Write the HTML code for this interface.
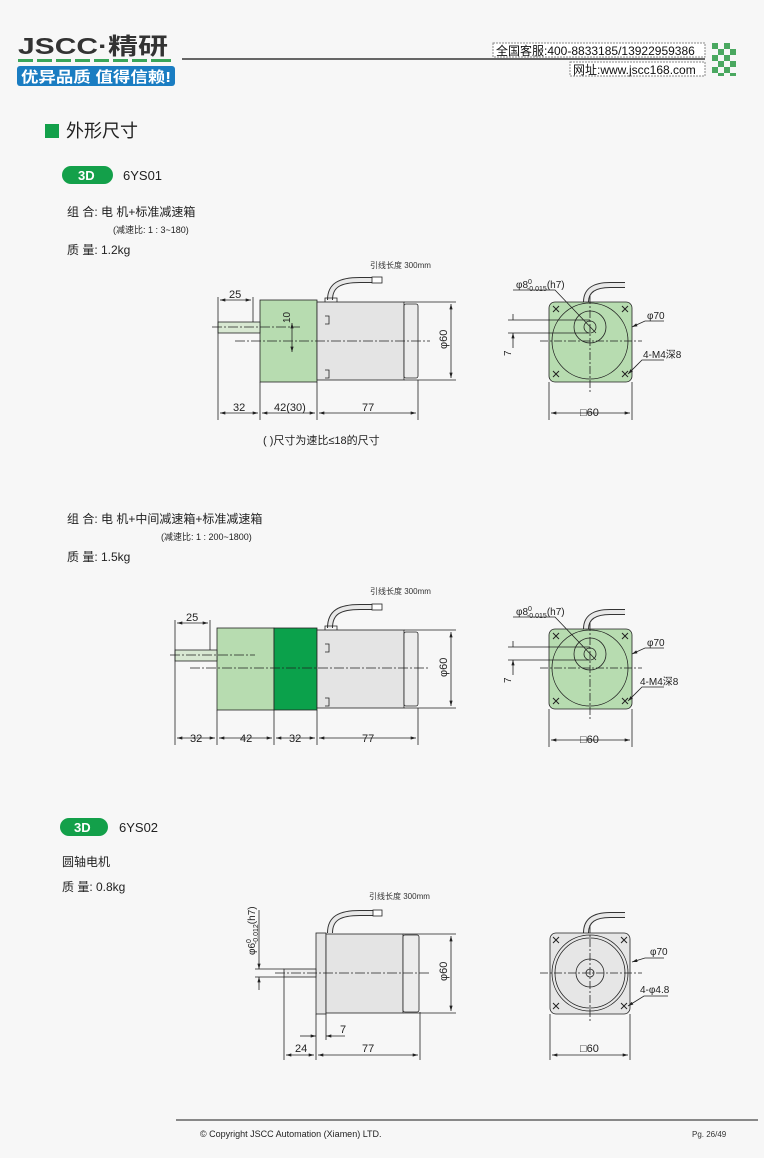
<!DOCTYPE html>
<html><head><meta charset="utf-8"><style>
html,body{margin:0;padding:0;background:#f7f7f7;}
body{width:764px;height:1153px;overflow:hidden;font-family:"Liberation Sans","Noto Sans CJK SC",sans-serif;}
svg text{font-family:"Liberation Sans","Noto Sans CJK SC",sans-serif;}
.n{font-family:"Liberation Sans Narrow","Liberation Sans","Noto Sans CJK SC",sans-serif;}
</style></head><body>
<svg width="764" height="1153" viewBox="0 0 764 1153" xmlns="http://www.w3.org/2000/svg">
<defs>
<marker id="a" viewBox="0 0 10 6" refX="10" refY="3" markerWidth="8" markerHeight="4" orient="auto-start-reverse"><path d="M0,0 L10,3 L0,6z" fill="#222"/></marker>
</defs>
<!-- header -->
<text x="18" y="54" font-size="23" font-weight="bold" fill="#333" textLength="150" lengthAdjust="spacingAndGlyphs">JSCC·精研</text>
<g fill="#3aa55a">
<rect x="18" y="59" width="15" height="3"/><rect x="37" y="59" width="15" height="3"/><rect x="56" y="59" width="15" height="3"/><rect x="75" y="59" width="15" height="3"/><rect x="94" y="59" width="15" height="3"/><rect x="113" y="59" width="15" height="3"/><rect x="132" y="59" width="15" height="3"/><rect x="151" y="59" width="20" height="3"/>
</g>
<rect x="17" y="66" width="158" height="20" rx="3" fill="#1a7dc2"/>
<text x="21" y="82" font-size="15" font-weight="bold" fill="#fff" textLength="150" lengthAdjust="spacingAndGlyphs">优异品质 值得信赖!</text>
<rect x="182" y="58" width="523" height="2" fill="#666"/>
<rect x="493" y="43" width="212" height="14" fill="#fff" stroke="#888" stroke-dasharray="2,1"/>
<text x="496" y="55" font-size="12" fill="#111" class="n">全国客服:400-8833185/13922959386</text>
<rect x="570" y="62" width="135" height="14" fill="#fff" stroke="#888" stroke-dasharray="2,1"/>
<text x="573" y="74" font-size="12" fill="#111" class="n">网址:www.jscc168.com</text>
<g fill="#4aa860">
<rect x="712" y="43" width="6" height="6"/><rect x="724" y="43" width="6" height="6"/><rect x="718" y="49" width="6" height="6"/><rect x="730" y="49" width="6" height="6"/><rect x="712" y="55" width="6" height="6"/><rect x="724" y="55" width="6" height="6"/><rect x="718" y="61" width="6" height="6"/><rect x="730" y="61" width="6" height="6"/><rect x="712" y="67" width="6" height="6"/><rect x="724" y="67" width="6" height="6"/><rect x="718" y="73" width="6" height="3"/><rect x="730" y="73" width="6" height="3"/>
</g>
<rect x="45" y="124" width="14" height="14" fill="#13a04a"/>
<text x="66" y="137" font-size="18" fill="#222">外形尺寸</text>
<rect x="62" y="166" width="51" height="18" rx="9" fill="#13a04a"/>
<text x="78" y="180" font-size="13" font-weight="bold" fill="#fff">3D</text>
<text x="123" y="180" font-size="13" fill="#222">6YS01</text>
<text x="67" y="216" font-size="12" fill="#222">组 合:  电 机+标准减速箱</text>
<text x="113" y="233" font-size="9" fill="#222">(减速比: 1 : 3~180)</text>
<text x="67" y="254" font-size="12" fill="#222">质 量:  1.2kg</text>

<g fill="none" stroke="#222" stroke-width="0.8">
<!-- ===== Diagram 1 side ===== -->
<text x="370" y="268" font-size="8" fill="#333" stroke="none">引线长度 300mm</text>
<path d="M330,300 C330,285 340,280 360,280 L376,280" stroke-width="6" stroke="#333"/>
<path d="M330,300 C330,285 340,280 360,280 L376,280" stroke-width="4" stroke="#e8e8e8"/>
<rect x="372" y="277" width="10" height="6" fill="#fff"/>
<rect x="260" y="300" width="57" height="82" fill="#b7dcb0"/>
<rect x="218" y="322" width="42" height="11" fill="#d8e8d2"/>
<rect x="317" y="302" width="87" height="78" fill="#e4e4e4"/>
<rect x="404" y="304" width="14" height="74" rx="2" fill="#ececec"/>
<path d="M325,302 v-4 h12 v4"/>
<path d="M325,316 h4 v8 h-4 M325,370 h4 v8 h-4"/>
<path d="M212,327 H300 M235,341 H430" stroke-dasharray="10,2,2,2"/>
<path d="M218,297 V420 M253,297 V322 M260,382 V420 M317,382 V420 M418,380 V420 M404,302 H456 M404,380 H456"/>
<path d="M220,300 H251" marker-start="url(#a)" marker-end="url(#a)"/>
<path d="M220,413 H258" marker-start="url(#a)" marker-end="url(#a)"/>
<path d="M262,413 H315" marker-start="url(#a)" marker-end="url(#a)"/>
<path d="M319,413 H416" marker-start="url(#a)" marker-end="url(#a)"/>
<path d="M451,304 V378" marker-start="url(#a)" marker-end="url(#a)"/>
<path d="M292,323 V352" marker-start="url(#a)" marker-end="url(#a)"/>
<text x="229" y="298" font-size="11" fill="#222" stroke="none" class="n">25</text>
<text x="233" y="411" font-size="11" fill="#222" stroke="none" class="n">32</text>
<text x="274" y="411" font-size="11" fill="#222" stroke="none" class="n">42(30)</text>
<text x="362" y="411" font-size="11" fill="#222" stroke="none" class="n">77</text>
<text transform="translate(447,349) rotate(-90)" font-size="11" fill="#222" stroke="none" class="n">φ60</text>
<text transform="translate(290,323) rotate(-90)" font-size="10" fill="#222" stroke="none" class="n">10</text>
<text x="263" y="444" font-size="11" fill="#222" stroke="none">( )尺寸为速比≤18的尺寸</text>

<!-- Diagram 1 front -->
<g id="fv1">
<path d="M586,302 C586,290 595,285 610,285 L625,285" stroke-width="6" stroke="#333"/>
<path d="M586,302 C586,290 595,285 610,285 L625,285" stroke-width="4" stroke="#e8e8e8"/>
<rect x="549" y="302" width="83" height="80" rx="6" fill="#b7dcb0"/>
<circle cx="590" cy="341" r="38"/>
<circle cx="590" cy="327" r="16"/>
<circle cx="590" cy="327" r="6"/>
<path d="M590,296 V392 M540,341 H642" stroke-dasharray="8,2,2,2"/>
<g stroke-width="1"><path d="M553,306 l6,6 m0,-6 l-6,6 M622,306 l6,6 m0,-6 l-6,6 M553,371 l6,6 m0,-6 l-6,6 M622,371 l6,6 m0,-6 l-6,6"/></g>
<path d="M508,320 H590 M508,333 H590"/>
<path d="M513,314 V320 M513,348 V333" marker-end="url(#a)"/>
<path d="M513,290 H555 L596,333"/>
<path d="M664,321 H645 L632,327" marker-end="url(#a)"/>
<path d="M664,360 H642 L628,374" marker-end="url(#a)"/>
<path d="M549,382 V420 M632,382 V420"/>
<path d="M551,413 H630" marker-start="url(#a)" marker-end="url(#a)"/>
<text x="516" y="288" font-size="10" fill="#222" stroke="none" class="n">φ8<tspan font-size="7" dy="-4">0</tspan><tspan font-size="7" dx="-5" dy="7">-0.015</tspan><tspan dy="-3">(h7)</tspan></text>
<text x="647" y="319" font-size="10" fill="#222" stroke="none" class="n">φ70</text>
<text x="643" y="358" font-size="10" fill="#222" stroke="none" class="n">4-M4深8</text>
<text transform="translate(511,356) rotate(-90)" font-size="10" fill="#222" stroke="none" class="n">7</text>
<text x="580" y="416" font-size="11" fill="#222" stroke="none" class="n">□60</text>
</g>
</g>

<text x="67" y="523" font-size="12" fill="#222">组 合:  电 机+中间减速箱+标准减速箱</text>
<text x="161" y="540" font-size="9" fill="#222">(减速比: 1 : 200~1800)</text>
<text x="67" y="561" font-size="12" fill="#222">质 量:  1.5kg</text>

<g fill="none" stroke="#222" stroke-width="0.8">
<text x="370" y="594" font-size="8" fill="#333" stroke="none">引线长度 300mm</text>
<path d="M330,628 C330,612 340,607 360,607 L376,607" stroke-width="6" stroke="#333"/>
<path d="M330,628 C330,612 340,607 360,607 L376,607" stroke-width="4" stroke="#e8e8e8"/>
<rect x="372" y="604" width="10" height="6" fill="#fff"/>
<rect x="217" y="628" width="57" height="82" fill="#b7dcb0"/>
<rect x="274" y="628" width="43" height="82" fill="#0ba14b"/>
<rect x="175" y="650" width="42" height="11" fill="#d8e8d2"/>
<rect x="317" y="630" width="87" height="78" fill="#e4e4e4"/>
<rect x="404" y="632" width="14" height="74" rx="2" fill="#ececec"/>
<path d="M325,630 v-4 h12 v4 M325,644 h4 v8 h-4 M325,698 h4 v8 h-4"/>
<path d="M170,655 H255 M190,668 H430" stroke-dasharray="10,2,2,2"/>
<path d="M175,620 V745 M210,620 V650 M217,710 V745 M274,710 V745 M317,710 V745 M418,708 V745 M404,630 H456 M404,708 H456"/>
<path d="M177,623 H208" marker-start="url(#a)" marker-end="url(#a)"/>
<path d="M177,738 H215" marker-start="url(#a)" marker-end="url(#a)"/>
<path d="M219,738 H272" marker-start="url(#a)" marker-end="url(#a)"/>
<path d="M276,738 H315" marker-start="url(#a)" marker-end="url(#a)"/>
<path d="M319,738 H416" marker-start="url(#a)" marker-end="url(#a)"/>
<path d="M451,632 V706" marker-start="url(#a)" marker-end="url(#a)"/>
<text x="186" y="621" font-size="11" fill="#222" stroke="none" class="n">25</text>
<text x="190" y="742" font-size="11" fill="#222" stroke="none" class="n">32</text>
<text x="240" y="742" font-size="11" fill="#222" stroke="none" class="n">42</text>
<text x="289" y="742" font-size="11" fill="#222" stroke="none" class="n">32</text>
<text x="362" y="742" font-size="11" fill="#222" stroke="none" class="n">77</text>
<text transform="translate(447,677) rotate(-90)" font-size="11" fill="#222" stroke="none" class="n">φ60</text>
<g transform="translate(0,327)">
<path d="M586,302 C586,290 595,285 610,285 L625,285" stroke-width="6" stroke="#333"/>
<path d="M586,302 C586,290 595,285 610,285 L625,285" stroke-width="4" stroke="#e8e8e8"/>
<rect x="549" y="302" width="83" height="80" rx="6" fill="#b7dcb0"/>
<circle cx="590" cy="341" r="38"/>
<circle cx="590" cy="327" r="16"/>
<circle cx="590" cy="327" r="6"/>
<path d="M590,296 V392 M540,341 H642" stroke-dasharray="8,2,2,2"/>
<g stroke-width="1"><path d="M553,306 l6,6 m0,-6 l-6,6 M622,306 l6,6 m0,-6 l-6,6 M553,371 l6,6 m0,-6 l-6,6 M622,371 l6,6 m0,-6 l-6,6"/></g>
<path d="M508,320 H590 M508,333 H590"/>
<path d="M513,314 V320 M513,348 V333" marker-end="url(#a)"/>
<path d="M513,290 H555 L596,333"/>
<path d="M664,321 H645 L632,327" marker-end="url(#a)"/>
<path d="M664,360 H642 L628,374" marker-end="url(#a)"/>
<path d="M549,382 V420 M632,382 V420"/>
<path d="M551,413 H630" marker-start="url(#a)" marker-end="url(#a)"/>
<text x="516" y="288" font-size="10" fill="#222" stroke="none" class="n">φ8<tspan font-size="7" dy="-4">0</tspan><tspan font-size="7" dx="-5" dy="7">-0.015</tspan><tspan dy="-3">(h7)</tspan></text>
<text x="647" y="319" font-size="10" fill="#222" stroke="none" class="n">φ70</text>
<text x="640" y="358" font-size="10" fill="#222" stroke="none" class="n">4-M4深8</text>
<text transform="translate(511,356) rotate(-90)" font-size="10" fill="#222" stroke="none" class="n">7</text>
<text x="580" y="416" font-size="11" fill="#222" stroke="none" class="n">□60</text>
</g>
</g>

<rect x="60" y="818" width="48" height="18" rx="9" fill="#13a04a"/>
<text x="74" y="832" font-size="13" font-weight="bold" fill="#fff">3D</text>
<text x="119" y="832" font-size="13" fill="#222">6YS02</text>
<text x="62" y="866" font-size="12" fill="#222">圆轴电机</text>
<text x="62" y="891" font-size="12" fill="#222">质 量:  0.8kg</text>

<g fill="none" stroke="#222" stroke-width="0.8">
<text x="369" y="899" font-size="8" fill="#333" stroke="none">引线长度 300mm</text>
<path d="M330,933 C330,918 340,913 360,913 L376,913" stroke-width="6" stroke="#333"/>
<path d="M330,933 C330,918 340,913 360,913 L376,913" stroke-width="4" stroke="#e8e8e8"/>
<rect x="373" y="910" width="9" height="6" fill="#fff"/>
<rect x="316" y="933" width="10" height="81" fill="#e4e4e4"/>
<rect x="326" y="934" width="77" height="79" fill="#e4e4e4"/>
<rect x="403" y="935" width="16" height="77" rx="2" fill="#ececec"/>
<rect x="284" y="969" width="32" height="8" fill="#ececec"/>
<path d="M275,973 H430" stroke-dasharray="10,2,2,2"/>
<path d="M403,934 H456 M403,1013 H456 M284,977 V1060 M316,1014 V1060 M326,1014 V1040 M420,1012 V1060 M255,969 H284 M255,977 H284"/>
<path d="M259,910 V969" marker-end="url(#a)"/>
<path d="M259,990 V977" marker-end="url(#a)"/>
<path d="M451,936 V1011" marker-start="url(#a)" marker-end="url(#a)"/>
<path d="M286,1055 H314" marker-start="url(#a)" marker-end="url(#a)"/>
<path d="M318,1055 H418" marker-start="url(#a)" marker-end="url(#a)"/>
<path d="M300,1036 H316" marker-end="url(#a)"/>
<path d="M345,1036 H326" marker-end="url(#a)"/>
<text x="295" y="1052" font-size="11" fill="#222" stroke="none" class="n">24</text>
<text x="362" y="1052" font-size="11" fill="#222" stroke="none" class="n">77</text>
<text x="340" y="1033" font-size="11" fill="#222" stroke="none" class="n">7</text>
<text transform="translate(447,981) rotate(-90)" font-size="11" fill="#222" stroke="none" class="n">φ60</text>
<text transform="translate(255,955) rotate(-90)" font-size="10" fill="#222" stroke="none" class="n">φ6<tspan font-size="7" dy="-4">0</tspan><tspan font-size="7" dx="-5" dy="7">-0.012</tspan><tspan dy="-3">(h7)</tspan></text>

<path d="M586,933 C586,920 595,915 610,915 L625,915" stroke-width="6" stroke="#333"/>
<path d="M586,933 C586,920 595,915 610,915 L625,915" stroke-width="4" stroke="#e8e8e8"/>
<rect x="550" y="933" width="80" height="81" rx="6" fill="#e6e6e6"/>
<circle cx="590" cy="973" r="38"/>
<circle cx="590" cy="973" r="35"/>
<circle cx="590" cy="973" r="14"/>
<circle cx="590" cy="973" r="4"/>
<path d="M590,925 V1022 M540,973 H642" stroke-dasharray="8,2,2,2"/>
<g stroke-width="1"><path d="M553,937 l6,6 m0,-6 l-6,6 M621,937 l6,6 m0,-6 l-6,6 M553,1003 l6,6 m0,-6 l-6,6 M621,1003 l6,6 m0,-6 l-6,6"/></g>
<path d="M664,958 H645 L632,962" marker-end="url(#a)"/>
<path d="M668,996 H644 L628,1006" marker-end="url(#a)"/>
<path d="M550,1014 V1060 M630,1014 V1060"/>
<path d="M552,1055 H628" marker-start="url(#a)" marker-end="url(#a)"/>
<text x="650" y="955" font-size="10" fill="#222" stroke="none" class="n">φ70</text>
<text x="640" y="993" font-size="10" fill="#222" stroke="none" class="n">4-φ4.8</text>
<text x="580" y="1052" font-size="11" fill="#222" stroke="none" class="n">□60</text>
</g>

<rect x="176" y="1119" width="582" height="2" fill="#888"/>
<text x="200" y="1137" font-size="9" fill="#222">© Copyright JSCC Automation (Xiamen) LTD.</text>
<text x="692" y="1137" font-size="8" fill="#333">Pg. 26/49</text>
</svg>
</body></html>
